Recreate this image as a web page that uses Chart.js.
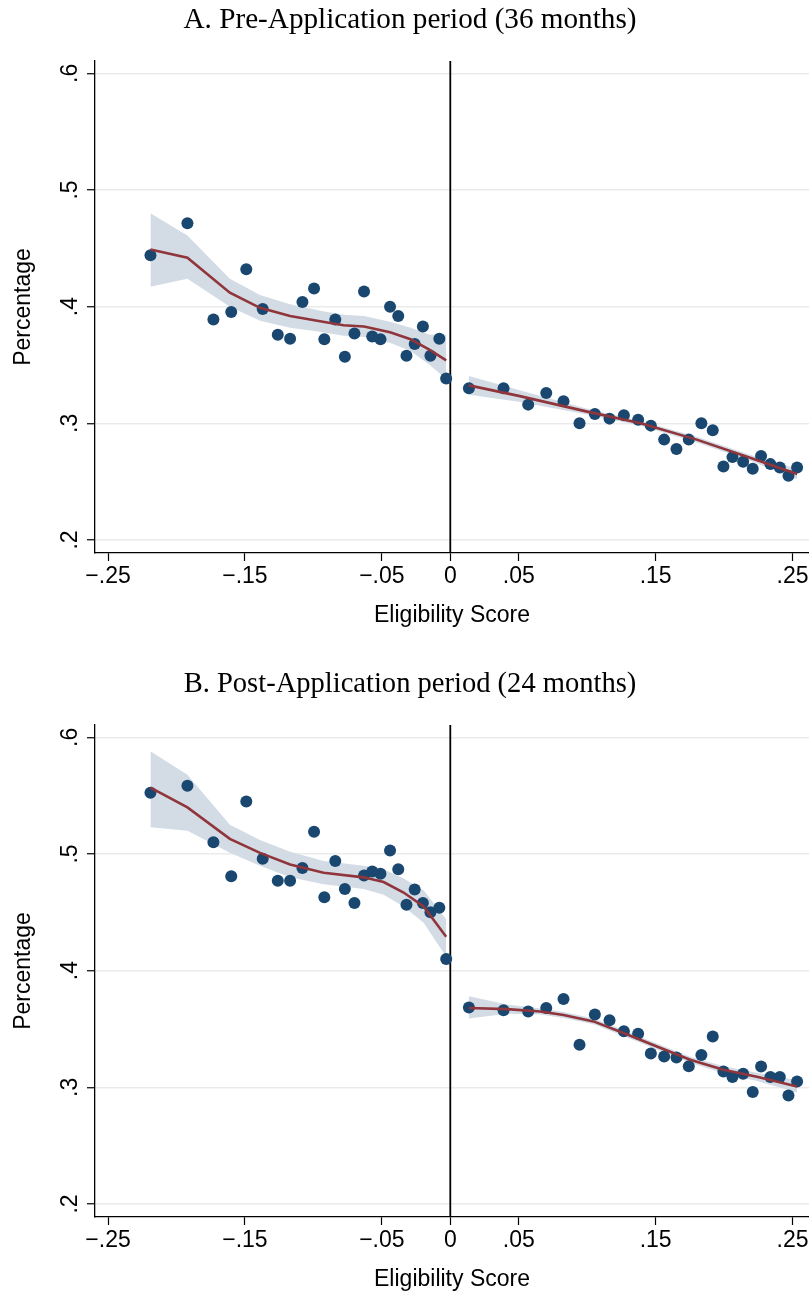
<!DOCTYPE html>
<html>
<head>
<meta charset="utf-8">
<script src="https://cdn.jsdelivr.net/npm/chart.js@4.4.1/dist/chart.umd.min.js"></script>
<style>
  html, body { margin: 0; padding: 0; background: #fff; width: 809px; height: 1291px; overflow: hidden; }
  .panel { position: absolute; left: 0; width: 809px; height: 627px; }
  #panelA { top: 0; }
  #panelB { top: 664px; }
</style>
</head>
<body>
<div class="panel" id="panelA"><canvas id="chartA"></canvas></div>
<div class="panel" id="panelB"><canvas id="chartB"></canvas></div>
<script>
// score bins (same bins in both panels)
const binsLeft = [-0.219, -0.192, -0.173, -0.160, -0.149, -0.137, -0.126, -0.117, -0.108, -0.0995, -0.092, -0.084, -0.077,
                  -0.070, -0.063, -0.057, -0.051, -0.044, -0.038, -0.032, -0.026, -0.020, -0.0145, -0.008, -0.003];
const binsRight = [0.0136, 0.0389, 0.0569, 0.0701, 0.0827, 0.0944, 0.1056, 0.1163, 0.1268, 0.1372, 0.1465, 0.1562, 0.1652,
                   0.1742, 0.1834, 0.1917, 0.1995, 0.2061, 0.2139, 0.2209, 0.2270, 0.2338, 0.2407, 0.2470, 0.2533];

// bin means, panel A (pre-application)
const preLeft = [0.444, 0.4715, 0.389, 0.3955, 0.432, 0.398, 0.376, 0.3725, 0.404, 0.4155, 0.372, 0.389, 0.357,
                 0.377, 0.413, 0.3745, 0.372, 0.400, 0.392, 0.358, 0.368, 0.383, 0.358, 0.3725, 0.3385];
const preRight = [0.330, 0.330, 0.316, 0.326, 0.319, 0.300, 0.308, 0.304, 0.307, 0.303, 0.298, 0.286, 0.278,
                  0.286, 0.300, 0.294, 0.263, 0.271, 0.267, 0.261, 0.272, 0.265, 0.262, 0.255, 0.262];

// bin means, panel B (post-application)
const postLeft = [0.5525, 0.5585, 0.510, 0.481, 0.545, 0.496, 0.477, 0.477, 0.488, 0.519, 0.463, 0.494, 0.470,
                  0.458, 0.4815, 0.485, 0.483, 0.503, 0.487, 0.4565, 0.4695, 0.458, 0.450, 0.454, 0.410];
const postRight = [0.3685, 0.366, 0.365, 0.368, 0.3757, 0.3365, 0.3625, 0.3575, 0.348, 0.346, 0.329, 0.3265, 0.3256,
                   0.318, 0.3276, 0.3436, 0.3136, 0.3088, 0.3116, 0.2959, 0.3179, 0.3088, 0.3088, 0.293, 0.305];

// local polynomial fits with 95% CI, panel A
const preFitLeftX = [-0.219, -0.192, -0.161, -0.139, -0.117, -0.093, -0.078, -0.063, -0.044, -0.029, -0.015, -0.003];
const preFitLeft  = [0.449, 0.442, 0.412, 0.399, 0.392, 0.387, 0.384, 0.383, 0.378, 0.372, 0.363, 0.354];
const preCiLeftHi = [0.480, 0.461, 0.424, 0.410, 0.402, 0.396, 0.393, 0.392, 0.387, 0.382, 0.376, 0.376];
const preCiLeftLo = [0.417, 0.424, 0.400, 0.388, 0.382, 0.378, 0.375, 0.374, 0.369, 0.362, 0.350, 0.338];
const preFitRightX = [0.0136, 0.05, 0.10, 0.139, 0.18, 0.22, 0.2533];
const preFitRight  = [0.3325, 0.3235, 0.310, 0.300, 0.286, 0.270, 0.2565];
const preCiRightHi = [0.3405, 0.3285, 0.3125, 0.302, 0.2885, 0.2725, 0.261];
const preCiRightLo = [0.3245, 0.3185, 0.3075, 0.298, 0.2835, 0.2675, 0.252];

// local polynomial fits with 95% CI, panel B
const postFitLeftX = [-0.219, -0.192, -0.161, -0.139, -0.117, -0.0925, -0.0633, -0.0487, -0.0341, -0.0195, -0.003];
const postFitLeft  = [0.557, 0.540, 0.513, 0.501, 0.491, 0.484, 0.480, 0.476, 0.467, 0.455, 0.429];
const postCiLeftHi = [0.588, 0.568, 0.525, 0.512, 0.502, 0.494, 0.490, 0.487, 0.479, 0.469, 0.444];
const postCiLeftLo = [0.523, 0.520, 0.501, 0.490, 0.480, 0.474, 0.470, 0.465, 0.455, 0.441, 0.412];
const postFitRightX = [0.0136, 0.0414, 0.0657, 0.0827, 0.1046, 0.1265, 0.1509, 0.1752, 0.1995, 0.2239, 0.2533];
const postFitRight  = [0.368, 0.367, 0.365, 0.362, 0.3565, 0.3465, 0.335, 0.3236, 0.315, 0.309, 0.3007];
const postCiRightHi = [0.378, 0.371, 0.3675, 0.3645, 0.359, 0.349, 0.3375, 0.3262, 0.318, 0.3125, 0.306];
const postCiRightLo = [0.359, 0.363, 0.3625, 0.3595, 0.354, 0.344, 0.3325, 0.321, 0.312, 0.3055, 0.2955];

// axes
const xTicks = [-0.25, -0.15, -0.05, 0, 0.05, 0.15, 0.25];
const xTickLabels = ['\u2212.25', '\u2212.15', '\u2212.05', '0', '.05', '.15', '.25'];
const yTicks = [0.2, 0.3, 0.4, 0.5, 0.6];
const yTickLabels = ['.2', '.3', '.4', '.5', '.6'];
const titleA = 'A. Pre-Application period (36 months)';
const titleB = 'B. Post-Application period (24 months)';

const NAVY = '#1a476f';
const MAROON = '#90353b';
const BAND = '#d3dce5';

function pts(xs, ys) {
    return xs.map((x, i) => ({ x: x, y: ys[i] }));
}

// titles, tick labels, axis titles and the cutoff line
const stataText = {
    id: 'stataText',
    beforeDatasetsDraw(chart) {
        const { ctx, chartArea, scales } = chart;
        const px = scales.x.getPixelForValue(0);
        ctx.save();
        ctx.strokeStyle = '#000';
        ctx.lineWidth = 1.8;
        ctx.beginPath();
        ctx.moveTo(px, chartArea.top);
        ctx.lineTo(px, chartArea.bottom);
        ctx.stroke();
        ctx.restore();
    },
    afterDraw(chart, args, opts) {
        const { ctx, chartArea, scales } = chart;
        ctx.save();
        ctx.fillStyle = '#000';
        ctx.textAlign = 'center';
        ctx.textBaseline = 'alphabetic';

        // serif panel title, sized to the reference width
        ctx.font = '20px "Liberation Serif"';
        const w = ctx.measureText(opts.title).width;
        ctx.font = (20 * 453 / w).toFixed(2) + 'px "Liberation Serif"';
        ctx.fillText(opts.title, 410, 28);

        ctx.font = '23px "Liberation Sans"';
        xTicks.forEach((v, i) => {
            ctx.fillText(xTickLabels[i], scales.x.getPixelForValue(v), chartArea.bottom + 30);
        });
        ctx.fillText('Eligibility Score', (chartArea.left + chartArea.right) / 2, chartArea.bottom + 69);

        yTicks.forEach((v, i) => {
            ctx.save();
            ctx.translate(chartArea.left - 18, scales.y.getPixelForValue(v));
            ctx.rotate(-Math.PI / 2);
            ctx.fillText(yTickLabels[i], 0, 0);
            ctx.restore();
        });
        ctx.translate(30, (chartArea.top + chartArea.bottom) / 2);
        ctx.rotate(-Math.PI / 2);
        ctx.fillText('Percentage', 0, 0);
        ctx.restore();
    }
};

function makePanel(canvasId, title, left, right, fitL, fitR) {
    const ctx = document.getElementById(canvasId).getContext('2d');
    new Chart(ctx, {
        type: 'scatter',
        data: {
            datasets: [
                // fitted lines on top
                { type: 'line', data: pts(fitL.x, fitL.y), borderColor: MAROON, borderWidth: 2.6,
                  pointRadius: 0, fill: false, showLine: true, order: 0 },
                { type: 'line', data: pts(fitR.x, fitR.y), borderColor: MAROON, borderWidth: 2.6,
                  pointRadius: 0, fill: false, showLine: true, order: 0 },
                // bin means
                { data: pts(binsLeft, left).concat(pts(binsRight, right)), backgroundColor: NAVY,
                  pointRadius: 6, borderWidth: 0, order: 1 },
                // confidence bands
                { type: 'line', data: pts(fitL.x, fitL.hi), borderWidth: 0, pointRadius: 0,
                  fill: false, showLine: true, order: 2 },
                { type: 'line', data: pts(fitL.x, fitL.lo), borderWidth: 0, pointRadius: 0,
                  fill: '-1', backgroundColor: BAND, showLine: true, order: 2 },
                { type: 'line', data: pts(fitR.x, fitR.hi), borderWidth: 0, pointRadius: 0,
                  fill: false, showLine: true, order: 2 },
                { type: 'line', data: pts(fitR.x, fitR.lo), borderWidth: 0, pointRadius: 0,
                  fill: '-1', backgroundColor: BAND, showLine: true, order: 2 }
            ]
        },
        options: {
            responsive: true,
            maintainAspectRatio: false,
            animation: false,
            events: [],
            layout: { autoPadding: false, padding: { top: 61, right: 0, bottom: 0, left: 0 } },
            scales: {
                x: {
                    type: 'linear',
                    min: -0.2595,
                    max: 0.262,
                    afterBuildTicks: s => { s.ticks = xTicks.map(v => ({ value: v })); },
                    afterFit: s => { s.height = 74; },
                    ticks: { display: false },
                    grid: { drawOnChartArea: false, drawTicks: true, tickLength: 8, tickColor: '#000', tickWidth: 1.2 },
                    border: { display: true, color: '#000', width: 1.3 }
                },
                y: {
                    type: 'linear',
                    min: 0.1888,
                    max: 0.6106,
                    afterBuildTicks: s => { s.ticks = yTicks.map(v => ({ value: v })); },
                    afterFit: s => { s.width = 95; },
                    ticks: { display: false },
                    grid: { color: '#ebebeb', lineWidth: 1.5, tickLength: 8, tickColor: '#000', tickWidth: 1.2 },
                    border: { display: true, color: '#000', width: 1.3 }
                }
            },
            plugins: {
                legend: { display: false },
                tooltip: { enabled: false },
                stataText: { title: title }
            }
        },
        plugins: [stataText]
    });
}

makePanel('chartA', titleA, preLeft, preRight,
    { x: preFitLeftX, y: preFitLeft, hi: preCiLeftHi, lo: preCiLeftLo },
    { x: preFitRightX, y: preFitRight, hi: preCiRightHi, lo: preCiRightLo });
makePanel('chartB', titleB, postLeft, postRight,
    { x: postFitLeftX, y: postFitLeft, hi: postCiLeftHi, lo: postCiLeftLo },
    { x: postFitRightX, y: postFitRight, hi: postCiRightHi, lo: postCiRightLo });
</script>
</body>
</html>
